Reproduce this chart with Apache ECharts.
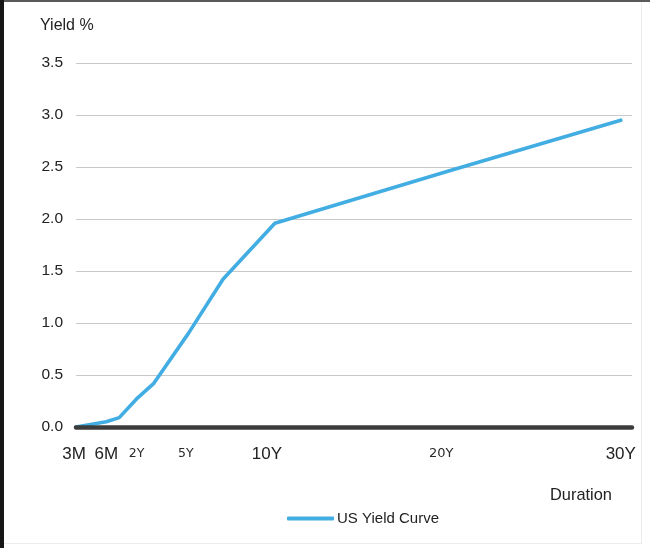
<!DOCTYPE html>
<html>
<head>
<meta charset="utf-8">
<title>US Yield Curve</title>
<script src="https://cdn.jsdelivr.net/npm/echarts@6/dist/echarts.min.js"></script>
<style>
  html, body { margin: 0; padding: 0; background: #ffffff; }
  #chart { width: 650px; height: 548px; }
</style>
</head>
<body>
<div id="chart"></div>
<script>
// Treasury tenors and their yields (%)
const tenors = ['3M', '6M', '1Y', '2Y', '3Y', '5Y', '7Y', '10Y', '20Y', '30Y'];
// Position of each tenor on the duration axis (years); the bill tenors are
// spread out to the left so they stay readable next to the notes.
const tenorPos = [-1.5, 0.25, 1, 2, 3, 5, 7, 10, 20, 30];
const yields = [0.0, 0.05, 0.09, 0.27, 0.42, 0.90, 1.42, 1.96, 2.46, 2.95];

// Tenors that carry a label under the axis
const tickLabels = ['3M', '6M', '2Y', '5Y', '10Y', '20Y', '30Y'];
const tickPos = [-1.5, 0.25, 2, 5, 10, 20, 30];

// Yield axis ticks
const yMin = 0, yMax = 3.5, yStep = 0.5;

const seriesName = 'US Yield Curve';

// Label styling: money-market and long tenors in large type, the rest small
const labelStyle = {
  '3M':  'big3', '6M': 'big', '2Y': 'small', '5Y': 'small5',
  '10Y': 'big10', '20Y': 'small20', '30Y': 'big'
};

const chart = echarts.init(document.getElementById('chart'), null, { renderer: 'canvas' });

const sans = "'Liberation Sans', Arial, sans-serif";
const bigText = { fontFamily: sans, fontSize: 17, color: '#222', lineHeight: 20 };
const smallText = { fontFamily: "'DejaVu Sans', sans-serif", fontSize: 12.5, color: '#2a2a2a', lineHeight: 20 };

chart.setOption({
  backgroundColor: '#ffffff',
  animation: false,
  grid: { left: 76, right: 18, top: 63, bottom: 121, containLabel: false, outerBoundsMode: 'none' },
  legend: {
    data: [seriesName],
    left: 287,
    top: 511,
    padding: 0,
    icon: 'roundRect',
    itemWidth: 47,
    itemHeight: 4,
    itemGap: 10,
    textStyle: { fontFamily: sans, fontSize: 15, color: '#222', padding: [0, 0, 0, -2] }
  },
  xAxis: {
    type: 'value',
    min: -1.5,
    max: 30.65,
    z: 4,
    splitLine: { show: false },
    axisTick: { show: false },
    axisLine: { show: true, onZero: false, lineStyle: { color: '#3c3c3c', width: 4.5 } },
    axisLabel: {
      customValues: tickPos,
      margin: 17,
      formatter: function (v) {
        const i = tickPos.indexOf(v);
        if (i < 0) return '';
        const t = tickLabels[i];
        return '{' + labelStyle[t] + '|' + t + '}';
      },
      rich: {
        big: bigText,
        big3: Object.assign({}, bigText, { padding: [0, 4, 0, 0] }),
        big10: Object.assign({}, bigText, { padding: [0, 16, 0, 0] }),
        small: smallText,
        small5: Object.assign({}, smallText, { padding: [0, 5, 0, 0] }),
        small20: Object.assign({}, smallText, { fontSize: 13, padding: [0, 13, 0, 0] })
      }
    }
  },
  yAxis: {
    type: 'value',
    min: yMin,
    max: yMax,
    interval: yStep,
    axisLine: { show: false },
    axisTick: { show: false },
    splitLine: { show: true, lineStyle: { color: '#c9c9c9', width: 1 } },
    axisLabel: {
      margin: 13,
      fontFamily: sans,
      fontSize: 15.5,
      color: '#222',
      formatter: function (v) { return v.toFixed(1); }
    }
  },
  series: [{
    name: seriesName,
    type: 'line',
    data: tenorPos.map(function (x, i) { return [x, yields[i]]; }),
    showSymbol: false,
    symbol: 'none',
    smooth: false,
    color: '#42ade2',
    lineStyle: { color: '#42ade2', width: 3.6, cap: 'round', join: 'round' },
    z: 3
  }],
  graphic: [
    // frame edges
    { type: 'rect', left: 0, top: 0, shape: { width: 650, height: 2 }, style: { fill: '#5a5a5a' }, silent: true },
    { type: 'rect', left: 0, top: 0, shape: { width: 4, height: 548 }, style: { fill: '#161616' }, silent: true },
    { type: 'rect', left: 641, top: 2, shape: { width: 1, height: 541 }, style: { fill: '#ececec' }, silent: true },
    { type: 'rect', left: 4, top: 543, shape: { width: 638, height: 1 }, style: { fill: '#ececec' }, silent: true },
    // axis titles
    { type: 'text', left: 40, top: 18, style: { text: 'Yield %', font: "16px 'Liberation Sans', Arial, sans-serif", fill: '#222' } },
    { type: 'text', left: 550, top: 487, style: { text: 'Duration', font: "16.4px 'Liberation Sans', Arial, sans-serif", fill: '#222' } }
  ]
});
</script>
</body>
</html>
